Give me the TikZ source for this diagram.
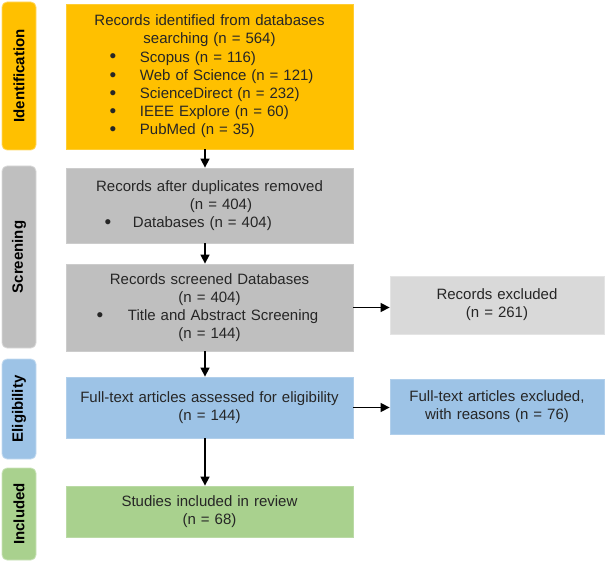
\documentclass[tikz,border=0pt]{standalone}
\usepackage{fontspec}
\setmainfont{Liberation Sans}
\usetikzlibrary{arrows.meta, positioning}

\definecolor{idfill}{HTML}{FFC000}
\definecolor{scrfill}{HTML}{BFBFBF}
\definecolor{exfill}{HTML}{D9D9D9}
\definecolor{elfill}{HTML}{9DC3E6}
\definecolor{infill}{HTML}{A9D18E}
\definecolor{txt}{HTML}{262626}

\newcommand{\bitem}[4]{\makebox[#1][l]{\hspace*{#2}\raisebox{-0.8pt}{\fontsize{19}{18}\selectfont\textbullet}\hspace*{#3}#4}}

\begin{document}
\begin{tikzpicture}[x=1pt, y=-1pt,
  box/.style={inner sep=0pt, align=center, text=txt,
    font=\fontsize{15}{18.2}\selectfont, line width=0.8pt},
  mainbox/.style={box, text width=287pt},
  sidebox/.style={box, text width=214pt},
  phase/.style={rounded corners=5pt, rotate=90, inner sep=0pt,
    minimum height=34pt, text=black, line width=0.8pt,
    font=\fontsize{15}{18}\selectfont\bfseries},
  arr/.style={line width=1.5pt, -{Triangle[length=9pt,width=9pt]}}]
\useasboundingbox (0,0) rectangle (605,561);

% phase labels
\node[phase, fill=idfill, draw=idfill!60!white, minimum width=148pt] (lbid) at (19,76) {Identification};
\node[phase, fill=scrfill, draw=scrfill!60!white, minimum width=182pt] (lbsc) at (19,257) {Screening};
\node[phase, fill=elfill, draw=elfill!60!white, minimum width=100pt] (lbel) at (19,409) {Eligibility};
\node[phase, fill=infill, draw=infill!60!white, minimum width=92pt] (lbin) at (19,514) {Included};

% main column
\node[mainbox, fill=idfill, draw=idfill!80!white, minimum height=145pt] (ident) at (209.5,76.5) {%
  Records identified from databases\\
  searching (n = 564)\\
  \bitem{287pt}{43.7pt}{23.6pt}{Scopus (n = 116)}\\
  \bitem{287pt}{43.7pt}{23.6pt}{Web of Science (n = 121)}\\
  \bitem{287pt}{43.7pt}{23.6pt}{ScienceDirect (n = 232)}\\
  \bitem{287pt}{43.7pt}{23.6pt}{IEEE Explore (n = 60)}\\
  \bitem{287pt}{43.7pt}{23.6pt}{PubMed (n = 35)}};
\node[mainbox, fill=scrfill, draw=scrfill!80!white, minimum height=75pt] (dup) at (209.5,205.5) {%
  Records after duplicates removed\\
  \hspace*{23pt}(n = 404)\\
  \bitem{287pt}{38.7pt}{21.6pt}{Databases (n = 404)}};
\node[mainbox, fill=scrfill, draw=scrfill!80!white, minimum height=87pt] (screen) at (209.5,307.5) {%
  Records screened Databases\\
  (n = 404)\\
  \bitem{287pt}{30.7pt}{24.6pt}{Title and Abstract Screening}\\
  (n = 144)};
\node[mainbox, fill=elfill, draw=elfill!80!white, minimum height=61pt] (elig) at (209.5,407.5) {%
  Full-text articles assessed for eligibility\\
  (n = 144)};
\node[mainbox, fill=infill, draw=infill!80!white, minimum height=51pt] (incl) at (209.5,511.5) {%
  Studies included in review\\
  (n = 68)};

% excluded column
\node[sidebox, fill=exfill, draw=exfill!70!white, minimum height=58pt] (excl) at (497,305) {%
  Records excluded\\
  (n = 261)};
\node[sidebox, fill=elfill, draw=elfill!80!white, minimum height=55pt] (ftexcl) at (497,406.5) {%
  Full-text articles excluded,\\
  with reasons (n = 76)};

% arrows
\draw[arr] ([xshift=-4.5pt]ident.south) -- ([xshift=-4.5pt]dup.north);
\draw[arr] ([xshift=-4.5pt]dup.south) -- ([xshift=-4.5pt]screen.north);
\draw[arr] ([xshift=-4.5pt]screen.south) -- ([xshift=-4.5pt]elig.north);
\draw[arr] ([xshift=-4.5pt]elig.south) -- ([xshift=-4.5pt]incl.north);
\draw[arr] (screen.east) -- (screen.east -| excl.west);
\draw[arr] (elig.east) -- (elig.east -| ftexcl.west);
\end{tikzpicture}
\end{document}
